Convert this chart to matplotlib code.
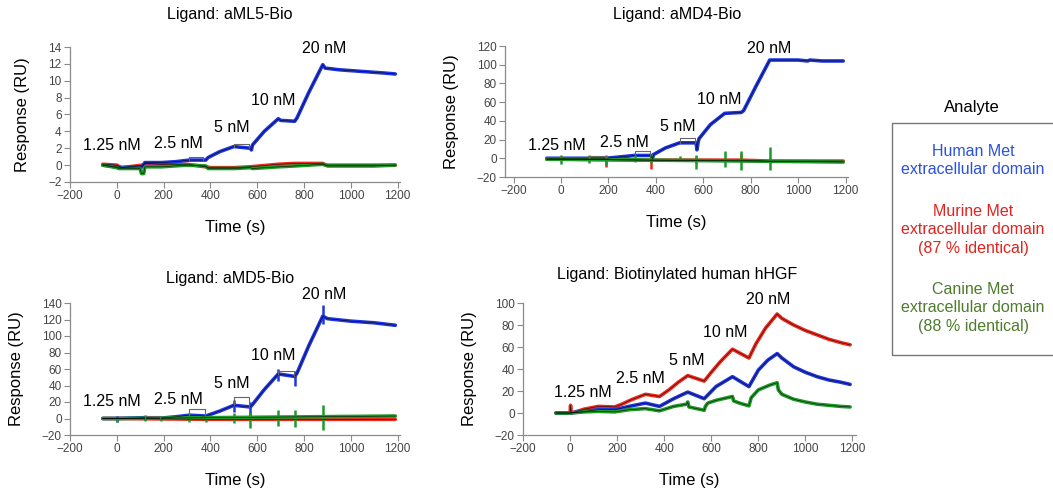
import numpy as np
import matplotlib
matplotlib.use("Agg")
import matplotlib.pyplot as plt

plt.rcParams['font.family'] = ['Liberation Sans', 'DejaVu Sans']

BLUE = '#1f35e0'
RED = '#ee2a1e'
GREEN = '#1f9a28'

conc_labels = ['1.25 nM', '2.5 nM', '5 nM', '10 nM', '20 nM']

# ---- panel 1: aML5-Bio ----
p1_t_blue = [-60, 0, 10, 110, 120, 190, 250, 310, 380, 390, 440, 500, 570, 575, 580, 630, 690, 700, 760, 770, 820, 880, 890, 950, 1000, 1050, 1100, 1150, 1190]
p1_blue = [0.0, -0.2, -0.3, -0.2, 0.3, 0.3, 0.4, 0.6, 0.6, 0.9, 1.6, 2.2, 2.0, 1.8, 2.4, 4.0, 5.5, 5.3, 5.2, 5.6, 8.6, 11.9, 11.5, 11.3, 11.2, 11.1, 11.0, 10.9, 10.8]
p1_t_red = [-60, 0, 20, 110, 120, 190, 300, 380, 400, 500, 570, 690, 760, 880, 900, 1000, 1100, 1190]
p1_red = [0.1, 0.0, -0.3, 0.0, 0.2, 0.1, 0.1, -0.2, -0.3, -0.3, -0.2, 0.1, 0.2, 0.2, -0.1, -0.1, -0.1, 0.0]
p1_t_green = [-60, 0, 10, 100, 105, 115, 120, 190, 300, 380, 390, 500, 570, 580, 690, 760, 880, 890, 1000, 1190]
p1_green = [0.0, -0.3, -0.4, -0.4, -1.0, -1.0, -0.2, -0.2, 0.0, -0.1, -0.4, -0.4, -0.3, -0.4, -0.2, -0.1, 0.1, 0.0, 0.0, 0.0]
p1_box_t0 = [310, 500]
p1_box_t1 = [370, 565]
p1_box_level = [1.0, 2.5]
p1_label_t = [-21, 265, 491, 667, 888]
p1_label_y = [2.3, 2.6, 4.4, 7.7, 13.8]

# ---- panel 2: aMD4-Bio ----
p2_t_blue = [-60, 0, 120, 190, 250, 310, 380, 385, 390, 440, 500, 570, 573, 578, 582, 630, 690, 760, 770, 820, 880, 890, 1000, 1040, 1050, 1100, 1190]
p2_blue = [0, 0, 0, 0, 1.5, 3, 3, -1, 4, 11, 16.5, 16.5, 9, 17, 21, 36, 48, 49, 51, 76, 105, 105, 105, 104, 105, 104, 104]
p2_t_red = [-60, 0, 190, 380, 570, 760, 880, 1190]
p2_red = [-1, -1, -1.5, -2, -2, -2, -3, -3]
p2_red_spike_t = [0, 120, 190, 380, 570, 760, 880]
p2_red_spike_lo = [-2, -1, -9, -11, -5, -1, -5]
p2_red_spike_hi = [2, 2, 2, 0, 1, 5, 0]
p2_t_green = [-60, 0, 400, 800, 1190]
p2_green = [-1, -1, -2, -3, -4]
p2_green_spike_t = [0, 120, 190, 310, 380, 500, 570, 690, 760, 880]
p2_green_spike_lo = [-6, -5, -7, -4, -5, -3, -11, -9, -13, -13]
p2_green_spike_hi = [4, 4, 3, 4, 5, 2, 3, 8, 8, 12]
p2_box_t0 = [120, 310, 500]
p2_box_t1 = [190, 375, 565]
p2_box_level = [2.5, 8, 22]
p2_label_t = [-17, 268, 491, 667, 879]
p2_label_y = [14, 16.7, 33.8, 63, 117.5]

# ---- panel 3: aMD5-Bio ----
p3_t_blue = [-60, 0, 120, 190, 250, 310, 380, 440, 500, 570, 580, 630, 690, 760, 770, 820, 880, 900, 1000, 1100, 1190]
p3_blue = [0, 0, 1, 0.5, 2, 4, 3, 9, 16, 14, 17, 35, 54, 51, 55, 88, 124, 121, 118, 116, 113]
p3_blue_spike_t = [0, 120, 500, 570, 690, 760, 880]
p3_blue_spike_lo = [-4, -2, 8, 4, 46, 40, 115]
p3_blue_spike_hi = [3, 3, 22, 20, 60, 58, 138]
p3_t_red = [-60, 0, 400, 800, 1190]
p3_red = [0, 0, -1, -1, -1]
p3_t_green = [-60, 0, 400, 800, 1190]
p3_green = [0, 0, 1, 2, 3]
p3_green_spike_t = [0, 120, 190, 310, 380, 500, 570, 690, 760, 880]
p3_green_spike_lo = [-4, -3, -3, -4, -4, -6, -12, -9, -10, -14]
p3_green_spike_hi = [1, 4, 3, 5, 4, 7, 8, 10, 10, 16]
p3_box_t0 = [120, 310, 500, 690]
p3_box_t1 = [185, 375, 565, 755]
p3_box_level = [3, 11, 26, 58]
p3_label_t = [-21, 265, 491, 667, 888]
p3_label_y = [20, 23.6, 43, 75.8, 150]

# ---- panel 4: biotinylated human hHGF ----
p4_t_red = [-60, 0, 2, 5, 30, 60, 120, 190, 220, 260, 320, 380, 420, 460, 500, 570, 600, 640, 690, 760, 790, 830, 880, 900, 950, 1000, 1050, 1100, 1150, 1190]
p4_red = [0, 0, 7, 0, 1.5, 3.5, 6, 5.5, 8, 12, 17, 15, 21, 28, 34, 29, 37, 47, 58, 50, 63, 77, 90, 86, 80, 75, 71, 67, 64, 62]
p4_t_blue = [-60, 0, 60, 120, 190, 250, 320, 380, 440, 500, 570, 620, 690, 760, 800, 840, 880, 900, 950, 1000, 1050, 1100, 1150, 1190]
p4_blue = [0, 0, 1.5, 3, 3, 6, 9, 6, 13, 19, 13, 24, 33, 24, 39, 48, 54, 50, 42, 37, 33, 30, 28, 26]
p4_t_green = [-60, 0, 60, 120, 190, 250, 320, 380, 440, 495, 500, 505, 570, 575, 585, 620, 690, 695, 720, 760, 770, 800, 850, 880, 885, 900, 950, 1000, 1050, 1100, 1150, 1190]
p4_green = [0, 0, 1, 1.5, 1, 3, 4, 2, 6, 8, 10, 5.5, 2.5, 6, 9, 11.5, 15, 11, 9, 6.5, 14, 21, 25.5, 27.5, 21, 17, 12.5, 10, 8, 7, 6, 5.5]
p4_label_t = [56, 299, 494, 659, 840]
p4_label_y = [18.5, 31, 48, 73, 103.6]

legend_entries = ['Human Met\nextracellular domain',
                  'Murine Met\nextracellular domain\n(87 % identical)',
                  'Canine Met\nextracellular domain\n(88 % identical)']
legend_colors = ['#2a52e0', '#e2231e', '#4d7d2c']

W, H = 1053, 495
fig = plt.figure(figsize=(W / 100, H / 100), dpi=100)


def px_axes(x0, x1, ytop, ybot):
    return fig.add_axes([x0 / W, 1 - ybot / H, (x1 - x0) / W, (ybot - ytop) / H])


def style(ax, xlim, ylim, yticks):
    ax.set_xlim(*xlim)
    ax.set_ylim(*ylim)
    ax.set_xticks(np.arange(-200, 1201, 200))
    ax.set_yticks(yticks)
    for s in ['top', 'right']:
        ax.spines[s].set_visible(False)
    for s in ['left', 'bottom']:
        ax.spines[s].set_color('#8a8a8a')
        ax.spines[s].set_linewidth(0.9)
    ax.tick_params(direction='out', length=4, width=0.8, color='#8a8a8a',
                   labelsize=8.5, labelcolor='#444444', pad=2)
    ax.set_xlabel('Time (s)', fontsize=12, labelpad=13)
    ax.set_ylabel('Response (RU)', fontsize=12, labelpad=13)


def trace(ax, t, y, color, lw=2.6):
    ax.plot(t, y, color=color, lw=lw, solid_capstyle='round', zorder=2)
    ax.plot(t, y, color='black', lw=0.45, alpha=0.8, zorder=4)


def spikes(ax, t, lo, hi, color):
    ax.vlines(t, lo, hi, color=color, lw=1.8, zorder=3)


def boxes(ax, t0, t1, level, t, y):
    for a, b, lev in zip(t0, t1, level):
        ya, yb = np.interp(a, t, y), np.interp(b, t, y)
        ax.plot([a, a, b, b], [ya, lev, lev, yb], color='#666666', lw=0.8, zorder=4)


def labels(ax, tt, yy):
    for s, x, y in zip(conc_labels, tt, yy):
        ax.text(x, y, s, fontsize=11.5, ha='center', va='center', clip_on=False)


# panel 1
ax1 = px_axes(70, 400, 47, 182)
style(ax1, (-200, 1210), (-2, 14), np.arange(-2, 15, 2))
trace(ax1, p1_t_red, p1_red, RED)
trace(ax1, p1_t_blue, p1_blue, BLUE)
trace(ax1, p1_t_green, p1_green, GREEN)
boxes(ax1, p1_box_t0, p1_box_t1, p1_box_level, p1_t_blue, p1_blue)
labels(ax1, p1_label_t, p1_label_y)
fig.text(230 / W, 1 - 15 / H, 'Ligand: aML5-Bio', fontsize=11.5, ha='center', va='center')

# panel 2
ax2 = px_axes(505, 848, 46, 177)
style(ax2, (-236, 1210), (-20, 120), np.arange(-20, 121, 20))
trace(ax2, p2_t_red, p2_red, RED)
spikes(ax2, p2_red_spike_t, p2_red_spike_lo, p2_red_spike_hi, RED)
trace(ax2, p2_t_blue, p2_blue, BLUE)
trace(ax2, p2_t_green, p2_green, GREEN)
spikes(ax2, p2_green_spike_t, p2_green_spike_lo, p2_green_spike_hi, GREEN)
boxes(ax2, p2_box_t0, p2_box_t1, p2_box_level, p2_t_blue, p2_blue)
labels(ax2, p2_label_t, p2_label_y)
fig.text(677 / W, 1 - 15 / H, 'Ligand: aMD4-Bio', fontsize=11.5, ha='center', va='center')

# panel 3
ax3 = px_axes(70, 400, 303, 435)
style(ax3, (-200, 1210), (-20, 140), np.arange(-20, 141, 20))
trace(ax3, p3_t_red, p3_red, RED)
trace(ax3, p3_t_blue, p3_blue, BLUE)
spikes(ax3, p3_blue_spike_t, p3_blue_spike_lo, p3_blue_spike_hi, BLUE)
trace(ax3, p3_t_green, p3_green, GREEN)
spikes(ax3, p3_green_spike_t, p3_green_spike_lo, p3_green_spike_hi, GREEN)
boxes(ax3, p3_box_t0, p3_box_t1, p3_box_level, p3_t_blue, p3_blue)
labels(ax3, p3_label_t, p3_label_y)
fig.text(230 / W, 1 - 279 / H, 'Ligand: aMD5-Bio', fontsize=11.5, ha='center', va='center')

# panel 4
ax4 = px_axes(523, 856, 303, 435)
style(ax4, (-200, 1215), (-20, 100), np.arange(-20, 101, 20))
trace(ax4, p4_t_red, p4_red, RED)
trace(ax4, p4_t_blue, p4_blue, BLUE)
trace(ax4, p4_t_green, p4_green, GREEN)
labels(ax4, p4_label_t, p4_label_y)
fig.text(677 / W, 1 - 275 / H, 'Ligand: Biotinylated human hHGF', fontsize=11.5, ha='center', va='center')

# analyte legend box
fig.text(972 / W, 1 - 107 / H, 'Analyte', fontsize=12, ha='center', va='center')
box = plt.Rectangle((892 / W, 1 - 355 / H), 170 / W, 232 / H, transform=fig.transFigure,
                    fill=False, edgecolor='#777777', lw=1.0)
fig.patches.append(box)
for txt, c, yc in zip(legend_entries, legend_colors, [161, 230, 308]):
    fig.text(973 / W, 1 - yc / H, txt, color=c, fontsize=11.5, ha='center', va='center',
             linespacing=1.25)

fig.savefig('out.png', dpi=100)
